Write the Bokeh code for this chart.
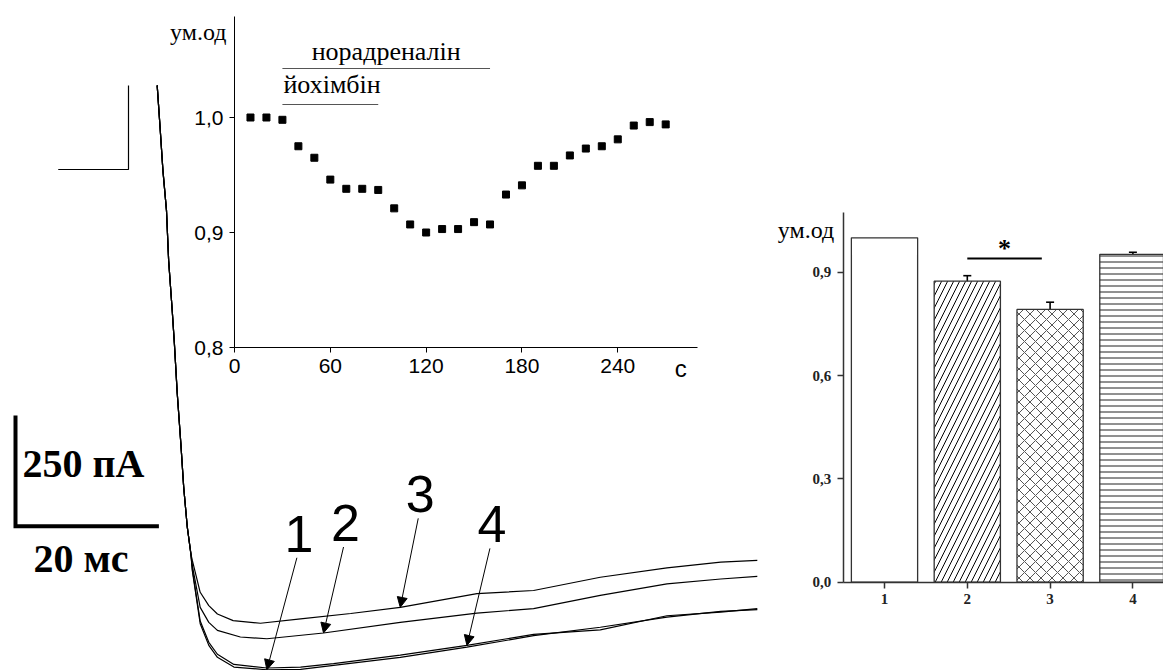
from bokeh.plotting import figure
from bokeh.models import (Range1d, LinearAxis, FixedTicker, Label, Arrow, NormalHead,
                          ColumnDataSource, Whisker, TeeHead, CustomJSTickFormatter)
from bokeh.layouts import row
from bokeh.embed import file_html
from bokeh.resources import INLINE

# ======================= DATA =======================
# Whole-cell current records (time in ms, current in pA)
baseline_t = [-9.8, 0.0, 0.0]
baseline_i = [0, 0, 190]
decay_t = [4.0, 4.4, 4.8, 5.3, 5.6, 6.1, 6.4, 6.8, 7.3, 7.7, 8.2, 8.7]
decay_i = [190, 96, -2, -93, -206, -319, -393, -506, -619, -718, -808, -868]

trace1_t = [8.9, 10.0, 11.2, 12.4, 14.7, 19.3, 24.0, 28.6, 37.9, 47.2, 56.5, 65.8, 75.1, 82.6, 87.7]
trace1_i = [-906, -1026, -1075, -1102, -1124, -1130, -1129, -1120, -1102, -1079, -1053, -1034, -1011, -998, -994]
trace2_t = [8.9, 10.0, 11.2, 12.4, 15.6, 19.3, 27.2, 37.9, 48.6, 56.5, 65.8, 75.1, 82.6, 87.7]
trace2_i = [-895, -989, -1023, -1041, -1056, -1060, -1047, -1023, -1002, -992, -962, -936, -925, -919]
trace3_t = [8.9, 10.0, 11.2, 12.4, 14.6, 18.4, 24.0, 31.0, 37.9, 48.6, 56.5, 65.8, 75.1, 82.6, 87.7]
trace3_i = [-883, -955, -985, -1004, -1019, -1025, -1015, -1003, -989, -958, -951, -921, -900, -887, -883]
trace4_t = [8.9, 10.0, 11.2, 12.4, 14.7, 19.3, 24.0, 28.6, 37.9, 47.2, 56.5, 65.8, 75.1, 82.6, 87.7]
trace4_i = [-903, -1020, -1068, -1095, -1118, -1126, -1124, -1116, -1097, -1075, -1050, -1040, -1008, -1000, -992]
trace_labels = ["1", "2", "3", "4"]

scale_ms = 20
scale_pa = 250

# Inset: normalised amplitude vs time (s)
inset_time = [10, 20, 30, 40, 50, 60, 70, 80, 90, 100, 110, 120, 130, 140,
              150, 160, 170, 180, 190, 200, 210, 220, 230, 240, 250, 260, 270]
inset_amp = [1.000, 1.000, 0.998, 0.975, 0.965, 0.946, 0.938, 0.938, 0.937, 0.921,
             0.907, 0.900, 0.903, 0.903, 0.909, 0.907, 0.933, 0.941, 0.958, 0.958,
             0.967, 0.973, 0.975, 0.981, 0.993, 0.996, 0.994]
noradrenaline_period = [30, 160]
yohimbine_period = [30, 90]
inset_xticks = [0, 60, 120, 180, 240]
inset_yticks = [0.8, 0.9, 1.0]
inset_xmax = 290
inset_ymax = 1.088

# Bar chart
bar_groups = [1, 2, 3, 4]
bar_means = [1.0, 0.874, 0.792, 0.952]
bar_sems = [0.0, 0.016, 0.021, 0.006]
bar_yticks = [0.0, 0.3, 0.6, 0.9]
bar_ymax = 1.074

# ======================= GEOMETRY (page pixels) =======================
W_L, W_R, H = 760, 403, 670

PX_MS, PX_PA = 7.17, 0.4427
T0_PX, I0_PY = 128, 169


def t_of(px):
    return (px - T0_PX) / PX_MS


def i_of(py):
    return (I0_PY - py) / PX_PA


PX_S, PX_U = 1.597, 1150.0
S0_PX, U0_PY = 234, 347


def s_of(px):
    return (px - S0_PX) / PX_S


def u_of(py):
    return inset_yticks[0] + (U0_PY - py) / PX_U


PX_CAT, PX_BAR = 82.8, 344.4
C1_PX, B0_PY = 884 - W_L, 581.7


def c_of(px):
    return bar_groups[0] + (px - C1_PX) / PX_CAT


def b_of(py):
    return (B0_PY - py) / PX_BAR


def yo(off, size):
    """y offset of a baseline-anchored label, corrected for the svg text baseline."""
    return off + 0.35 * size


comma_fmt = CustomJSTickFormatter(code="return tick.toFixed(1).replace('.', ',')")

# ======================= LEFT PANEL =======================
p = figure(width=W_L, height=H,
           x_range=Range1d(t_of(0), t_of(W_L)),
           y_range=Range1d(i_of(H), i_of(0)),
           x_axis_type=None, y_axis_type=None,
           output_backend="svg", toolbar_location=None, min_border=0)
p.extra_x_ranges = {"ix": Range1d(s_of(0), s_of(W_L))}
p.extra_y_ranges = {"iy": Range1d(u_of(H), u_of(0))}
p.outline_line_color = None
p.background_fill_color = "white"
p.border_fill_color = "white"

TRACE_KW = dict(line_color="black", line_width=1.2)
p.line(baseline_t, baseline_i, **TRACE_KW)
traces = [(trace1_t, trace1_i), (trace2_t, trace2_i), (trace3_t, trace3_i), (trace4_t, trace4_i)]
for tt, ii in traces:
    p.line(decay_t + tt, decay_i + ii, **TRACE_KW)

# scale bar
sb_t0, sb_i0 = t_of(15), i_of(525.7)
p.line([sb_t0, sb_t0, sb_t0 + scale_ms], [sb_i0 + scale_pa, sb_i0, sb_i0],
       line_color="black", line_width=4, line_join="miter")
SB_FONT = dict(text_font="Liberation Serif", text_font_style="bold", text_font_size="40px",
               text_color="black", text_baseline="alphabetic")
p.add_layout(Label(x=sb_t0, y=sb_i0, x_offset=7, y_offset=yo(49, 40), text=f"{scale_pa} пА", **SB_FONT))
p.add_layout(Label(x=sb_t0, y=sb_i0, x_offset=18, y_offset=yo(-46, 40), text=f"{scale_ms} мс", **SB_FONT))

# arrows pointing at traces
arrow_idx = [5, 6, 8, 9]
arrow_px = [(30, 112), (20, 86), (18, 89), (23, 97)]
for (tt, ii), k, (dx, dy), lab in zip(traces, arrow_idx, arrow_px, trace_labels):
    xe, ye = tt[k], ii[k]
    xs, ys = xe + dx / PX_MS, ye + dy / PX_PA
    p.add_layout(Arrow(end=NormalHead(size=10, fill_color="black", line_color="black", line_width=1),
                       x_start=xs, y_start=ys, x_end=xe, y_end=ye,
                       line_color="black", line_width=1))
    p.add_layout(Label(x=xs, y=ys, x_offset=2, y_offset=yo(6, 52), text=lab, text_align="center",
                       text_baseline="alphabetic", text_font="Liberation Sans",
                       text_font_size="52px", text_color="black"))

# ---- inset (drawn on extra ranges, axes at fixed locations) ----
AX_KW = dict(axis_line_color="black", axis_line_width=1,
             major_tick_line_color="black", major_tick_out=5, major_tick_in=0,
             minor_tick_line_color=None,
             major_label_text_font="Liberation Sans", major_label_text_font_size="21px",
             major_label_text_color="black", major_label_standoff=6)
ax_x = LinearAxis(x_range_name="ix", y_range_name="iy", fixed_location=inset_yticks[0],
                  bounds=(0, inset_xmax), ticker=FixedTicker(ticks=inset_xticks), **AX_KW)
ax_y = LinearAxis(x_range_name="ix", y_range_name="iy", fixed_location=0,
                  bounds=(inset_yticks[0], inset_ymax), ticker=FixedTicker(ticks=inset_yticks),
                  formatter=comma_fmt, **AX_KW)
p.add_layout(ax_x, "below")
p.add_layout(ax_y, "left")

p.scatter(inset_time, inset_amp, marker="square", size=7, color="black",
          x_range_name="ix", y_range_name="iy")

lev_n, lev_y = u_of(68), u_of(104)
p.segment(x0=[noradrenaline_period[0], yohimbine_period[0]],
          x1=[noradrenaline_period[1], yohimbine_period[1]],
          y0=[lev_n, lev_y], y1=[lev_n, lev_y],
          line_color="#555555", line_width=1.2, x_range_name="ix", y_range_name="iy")
SERIF = dict(text_font="Liberation Serif", text_color="black", text_baseline="alphabetic")
p.add_layout(Label(x=sum(noradrenaline_period) / 2, y=lev_n, y_offset=yo(8, 26), text="норадреналін",
                   text_align="center", text_font_size="26px",
                   x_range_name="ix", y_range_name="iy", **SERIF))
p.add_layout(Label(x=yohimbine_period[0], y=lev_y, x_offset=1, y_offset=yo(11, 26), text="йохімбін",
                   text_align="left", text_font_size="26px",
                   x_range_name="ix", y_range_name="iy", **SERIF))
p.add_layout(Label(x=0, y=u_of(40), x_offset=-8, y_offset=yo(0, 24), text="ум.од", text_align="right",
                   text_font_size="24px", x_range_name="ix", y_range_name="iy", **SERIF))
p.add_layout(Label(x=inset_xmax, y=inset_yticks[0], x_offset=-17, y_offset=yo(-29, 24), text="с",
                   text_align="center", text_baseline="alphabetic", text_font="Liberation Sans",
                   text_font_size="24px", text_color="black",
                   x_range_name="ix", y_range_name="iy"))

# ======================= BAR CHART =======================
pb = figure(width=W_R, height=H,
            x_range=Range1d(c_of(0), c_of(W_R)),
            y_range=Range1d(b_of(H), b_of(0)),
            x_axis_type=None, y_axis_type=None,
            output_backend="svg", toolbar_location=None, min_border=0)
pb.outline_line_color = None
pb.background_fill_color = "white"
pb.border_fill_color = "white"

src = ColumnDataSource(dict(x=bar_groups, top=bar_means))
hatch_style = dict(pat=[" ", "/", "x", "-"], scale=[12, 12, 11, 6],
                   col=["black", "black", "#555555", "#222222"])
src.data.update(hatch_pattern=hatch_style["pat"], hatch_scale=hatch_style["scale"],
                hatch_color=hatch_style["col"])
pb.vbar(x="x", top="top", bottom=0, width=0.8, source=src, fill_color="white",
        line_color="#333333", line_width=1.3,
        hatch_pattern="hatch_pattern", hatch_scale="hatch_scale", hatch_color="hatch_color",
        hatch_weight=1)

err_src = ColumnDataSource(dict(
    x=bar_groups[1:],
    upper=[m + e for m, e in zip(bar_means[1:], bar_sems[1:])],
    lower=[m - e for m, e in zip(bar_means[1:], bar_sems[1:])]))
pb.add_layout(Whisker(source=err_src, base="x", upper="upper", lower="lower",
                      line_color="black", line_width=1.6,
                      upper_head=TeeHead(size=8, line_width=1.6, line_color="black"),
                      lower_head=TeeHead(size=8, line_width=1.6, line_color="black")))

sig_y = bar_means[1] + bar_sems[1] + 0.05
sig_x0, sig_x1 = bar_groups[1], bar_groups[2] - 0.1
pb.segment(x0=[sig_x0], x1=[sig_x1], y0=[sig_y], y1=[sig_y], line_color="black", line_width=2)
pb.add_layout(Label(x=(sig_x0 + sig_x1) / 2, y=sig_y, y_offset=yo(1, 26), text="*", text_align="center",
                    text_baseline="alphabetic", text_font="Liberation Serif",
                    text_font_style="bold", text_font_size="26px", text_color="black"))

x_left = c_of(842.7 - W_L)
pb.add_layout(Label(x=x_left, y=bar_means[0], x_offset=-9, y_offset=yo(-1, 24), text="ум.од",
                    text_align="right", text_font_size="24px", **SERIF))

BAX = dict(axis_line_color="#333333", axis_line_width=1.5,
           major_tick_line_color="#333333", major_tick_line_width=1.5,
           major_tick_out=6, major_tick_in=0, minor_tick_line_color=None,
           major_label_text_font="Liberation Serif", major_label_text_font_style="bold",
           major_label_text_font_size="15px", major_label_text_color="#222222",
           major_label_standoff=6)
bx = LinearAxis(fixed_location=0, bounds=(x_left, c_of(W_R)),
                ticker=FixedTicker(ticks=bar_groups), **BAX)
by = LinearAxis(fixed_location=x_left, bounds=(0, bar_ymax),
                ticker=FixedTicker(ticks=bar_yticks), formatter=comma_fmt, **BAX)
pb.add_layout(bx, "below")
pb.add_layout(by, "left")

layout = row(p, pb, spacing=0)
open("out.html", "w").write(file_html(layout, INLINE))
